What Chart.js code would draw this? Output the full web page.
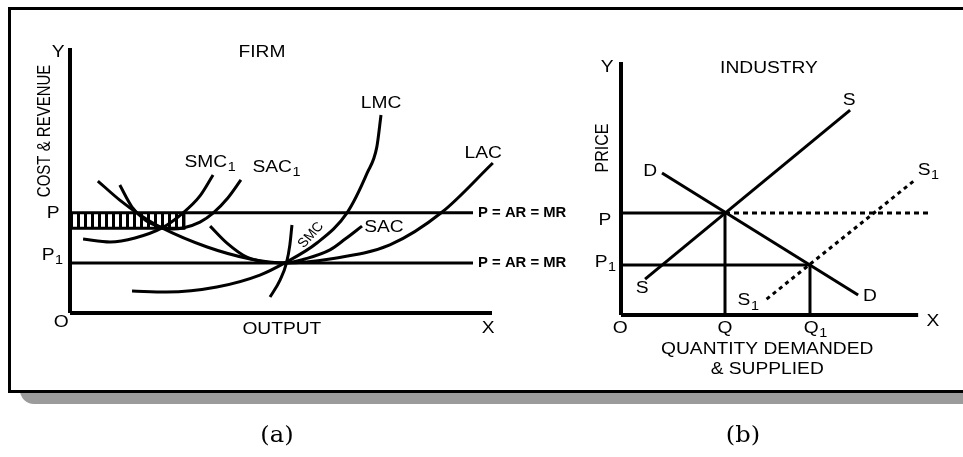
<!DOCTYPE html>
<html>
<head>
<meta charset="utf-8">
<script src="https://cdn.jsdelivr.net/npm/chart.js@4.4.1/dist/chart.umd.min.js"></script>
<style>
    html, body { margin: 0; padding: 0; background: #fff; }
    #page { position: relative; width: 963px; height: 457px; overflow: hidden; }
    #shadow { position: absolute; left: 20px; top: 20px; width: 1000px; height: 384px;
              background: #9b9b9b; border-bottom-left-radius: 14px; }
    #frame { position: absolute; left: 8px; top: 7px; width: 1000px; height: 380px;
             border: 3px solid #000; background: #fff; }
    canvas { position: absolute; left: 0; top: 0; }
    .cap { position: absolute; top: 422px; width: 100px; text-align: center;
           font: 22px "DejaVu Serif", serif; transform: scaleX(1.1); }
</style>
</head>
<body>
<div id="page">
    <div id="shadow"></div>
    <div id="frame"></div>
    <canvas id="firm" width="963" height="457"></canvas>
    <canvas id="industry" width="963" height="457"></canvas>
    <div class="cap" style="left:227px">(a)</div>
    <div class="cap" style="left:693px">(b)</div>
</div>
<script>
(function () {
    "use strict";

    // ---- (a) FIRM : output on x, cost & revenue on y (0..100) ----
    const priceP = 37.8;
    const priceP1 = 18.9;
    const lineEndA = 95.5;

    const lacX = [6.6, 11.8, 16.6, 21.8, 32.5, 42.7, 51, 61.6, 75.8, 88.2, 100.2];
    const lacY = [49.8, 42.6, 37, 32.1, 24.9, 20.4, 18.9, 20.4, 25.7, 38.1, 56.6];

    const lmcX = [14.7, 22.9, 34.8, 45.0, 50.9, 58.5, 65.6, 70.4, 72.7, 73.7];
    const lmcY = [8.3, 7.9, 9.8, 14.3, 18.9, 26.4, 37.7, 52.8, 62.6, 74.7];

    const sac1X = [11.8, 14.7, 17.8, 21.3, 24.4, 26.8, 30.8, 33.9, 37.4, 40.5];
    const sac1Y = [48.3, 40, 35.1, 32.5, 31.7, 32.1, 34.3, 37.7, 43.4, 50.2];

    const smc1X = [3.1, 9.5, 15.4, 21.8, 26.8, 30.8, 33.9];
    const smc1Y = [27.9, 26.8, 28.3, 32.1, 37.8, 44.2, 52.1];

    const sacX = [33.2, 37.2, 41.9, 46.7, 51.2, 55.7, 61.6, 65.2, 69.2];
    const sacY = [32.8, 26.4, 21.1, 19.2, 18.9, 20.4, 23.8, 27.9, 32.8];

    const smcX = [47.4, 49.8, 51.3, 52.1, 52.6];
    const smcY = [6.0, 12.5, 18.9, 25.7, 33.2];

    // supernormal profit box (hatched) : bottom edge and right edge
    const hatchX = [0, 27, 27];
    const hatchY = [32, 32, priceP];

    // ---- (b) INDUSTRY : quantity on x, price on y (0..100) ----
    const priceB = 40.3;
    const priceB1 = 19.8;
    const qtyQ = 35;
    const qtyQ1 = 63.6;

    const supplyX = [8.1, 77.1];
    const supplyY = [14.2, 81.0];
    const demandX = [13.8, 79.8];
    const demandY = [56.1, 7.9];
    const supply1X = [49, 99];
    const supply1Y = [6.3, 53.4];
    const dashEndB = 103.4;

    const pts = (xs, ys) => xs.map((x, i) => ({ x: x, y: ys[i] }));
    const seg = (x0, y0, x1, y1) => [{ x: x0, y: y0 }, { x: x1, y: y1 }];

    const FONT = '"Liberation Sans", Arial, sans-serif';

    function line(data, width, opts) {
        return Object.assign({
            data: data,
            borderColor: "#000",
            borderWidth: width,
            pointRadius: 0,
            fill: false,
            tension: 0,
            clip: false,
        }, opts || {});
    }
    const curve = (data) => line(data, 3, { cubicInterpolationMode: "monotone" });

    // labels drawn on top, anchored through the chart scales
    function textLayer(items) {
        return {
            id: "textLayer",
            afterDatasetsDraw(chart) {
                const ctx = chart.ctx;
                const sx = chart.scales.x, sy = chart.scales.y;
                ctx.save();
                ctx.fillStyle = "#000";
                ctx.textBaseline = "middle";
                items.forEach((it) => {
                    const size = it.size || 16;
                    ctx.save();
                    ctx.translate(sx.getPixelForValue(it.x), sy.getPixelForValue(it.y));
                    ctx.scale(it.sx || 1.2, 1);
                    if (it.rot) ctx.rotate(it.rot * Math.PI / 180);
                    ctx.font = (it.bold ? "bold " : "") + size + "px " + FONT;
                    ctx.textAlign = it.align || "center";
                    ctx.fillText(it.text, 0, 0);
                    if (it.sub) {
                        const w = ctx.measureText(it.text).width;
                        const start = it.align === "left" ? w : w / 2;
                        ctx.font = Math.round(size * 0.72) + "px " + FONT;
                        ctx.textAlign = "left";
                        ctx.fillText(it.sub, start + 0.5, size * 0.32);
                    }
                    ctx.restore();
                });
                ctx.restore();
            },
        };
    }

    function makeChart(id, xMax, pad, datasets, labels) {
        return new Chart(document.getElementById(id).getContext("2d"), {
            type: "line",
            data: { datasets: datasets },
            options: {
                responsive: false,
                animation: false,
                events: [],
                layout: { padding: pad },
                scales: {
                    x: { type: "linear", min: 0, max: xMax, display: false },
                    y: { type: "linear", min: 0, max: 100, display: false },
                },
                plugins: { legend: { display: false }, tooltip: { enabled: false } },
            },
            plugins: [textLayer(labels)],
        });
    }

    // stripes for the hatched box
    const stripe = document.createElement("canvas");
    stripe.width = 7;
    stripe.height = 4;
    const sctx = stripe.getContext("2d");
    sctx.fillStyle = "#000";
    sctx.fillRect(0, 0, 3, 4);
    const hatchPattern = sctx.createPattern(stripe, "repeat");

    const labelsA = [
        { text: "Y", x: -2.8, y: 98.1 },
        { text: "FIRM", x: 45.5, y: 98.1 },
        { text: "COST & REVENUE", x: -5.9, y: 68.7, size: 15, rot: -90 },
        { text: "P", x: -4.0, y: 37.4 },
        { text: "P", sub: "1", x: -5.2, y: 21.5 },
        { text: "O", x: -2.1, y: -3.8 },
        { text: "OUTPUT", x: 50.2, y: -6.4 },
        { text: "X", x: 99.1, y: -6.0 },
        { text: "SMC", sub: "1", x: 32.2, y: 56.6 },
        { text: "SAC", sub: "1", x: 47.9, y: 54.7 },
        { text: "LMC", x: 73.7, y: 78.9 },
        { text: "LAC", x: 97.9, y: 60 },
        { text: "SAC", x: 74.4, y: 32.1 },
        { text: "SMC", x: 57.1, y: 29.4, size: 13, rot: -50, sx: 1.1 },
        { text: "P = AR = MR", x: 96.7, y: priceP, size: 14, bold: true, align: "left", sx: 1.06 },
        { text: "P = AR = MR", x: 96.7, y: priceP1, size: 14, bold: true, align: "left", sx: 1.06 },
    ];

    const labelsB = [
        { text: "Y", x: -4.7, y: 97.6 },
        { text: "INDUSTRY", x: 49.8, y: 97.2 },
        { text: "PRICE", x: -6.1, y: 66, rot: -90 },
        { text: "S", x: 76.8, y: 84.6 },
        { text: "D", x: 9.8, y: 56.5 },
        { text: "S", sub: "1", x: 102, y: 56.9 },
        { text: "P", x: -5.4, y: 37.2 },
        { text: "P", sub: "1", x: -6.7, y: 20.9 },
        { text: "S", x: 7.1, y: 10.3 },
        { text: "S", sub: "1", x: 41.4, y: 5.5 },
        { text: "D", x: 83.8, y: 7.1 },
        { text: "O", x: -0.3, y: -5.5 },
        { text: "Q", x: qtyQ, y: -5.5 },
        { text: "Q", sub: "1", x: 64, y: -5.5 },
        { text: "X", x: 105, y: -2.8 },
        { text: "QUANTITY DEMANDED", x: 49.2, y: -13.8 },
        { text: "& SUPPLIED", x: 49.2, y: -21.7 },
    ];

    makeChart("firm", 100, { left: 70, right: 471, top: 48, bottom: 144 }, [
        line(pts(hatchX, hatchY), 3, { fill: { value: priceP }, backgroundColor: hatchPattern }),
        line(seg(0, priceP, lineEndA, priceP), 3),
        line(seg(0, priceP1, lineEndA, priceP1), 3),
        curve(pts(lacX, lacY)),
        curve(pts(lmcX, lmcY)),
        curve(pts(sac1X, sac1Y)),
        curve(pts(smc1X, smc1Y)),
        curve(pts(sacX, sacY)),
        curve(pts(smcX, smcY)),
        line(seg(0, 0, 100, 0), 4),
        line(seg(0, 0, 0, 100), 4),
    ], labelsA);

    makeChart("industry", 105, { left: 621, right: 30, top: 62, bottom: 142 }, [
        line(seg(0, priceB, qtyQ, priceB), 3),
        line(seg(qtyQ, priceB, dashEndB, priceB), 3, { borderDash: [5, 4] }),
        line(seg(0, priceB1, qtyQ1, priceB1), 3),
        line(seg(qtyQ, 0, qtyQ, priceB), 3),
        line(seg(qtyQ1, 0, qtyQ1, priceB1), 3),
        line(pts(supplyX, supplyY), 3),
        line(pts(demandX, demandY), 3),
        line(pts(supply1X, supply1Y), 3, { borderDash: [4, 4] }),
        line(seg(0, 0, 100, 0), 4),
        line(seg(0, 0, 0, 100), 4),
    ], labelsB);
})();
</script>
</body>
</html>
